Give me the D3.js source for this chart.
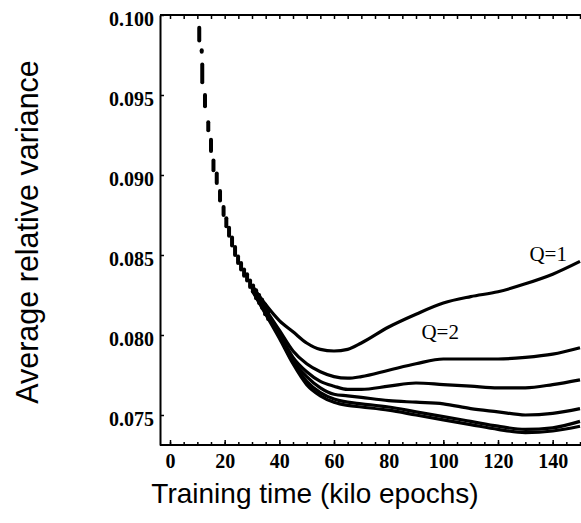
<!DOCTYPE html>
<html>
<head>
<meta charset="utf-8">
<script src="https://cdn.jsdelivr.net/npm/d3@7"></script>
<style>
  body { margin: 0; background: #fff; }
  svg { display: block; }
</style>
</head>
<body>
<div id="chart"></div>
<script>
// Canvas size
const width = 581;
const height = 523;

// Early training: dotted samples (time, upper and lower value of each dot cluster)
const markT      = [10.7, 11.6, 11.8, 12.8, 14.0, 15.0, 15.9, 17.1, 18.3, 19.6, 20.6, 21.6, 22.7, 23.8, 24.9, 26.0, 27.1, 28.2, 29.3, 30.4, 31.5, 32.6, 33.7, 34.8, 35.9];
const markTop    = [0.0992, 0.0978, 0.0969, 0.0950, 0.0933, 0.0922, 0.0909, 0.0901, 0.0890, 0.0880, 0.0873, 0.0867, 0.0861, 0.0855, 0.0849, 0.0845, 0.0841, 0.0838, 0.0834, 0.0831, 0.0828, 0.0825, 0.0822, 0.0819, 0.0816];
const markBottom = [0.0984, 0.0977, 0.0958, 0.0943, 0.0928, 0.0915, 0.0903, 0.0895, 0.0884, 0.0875, 0.0868, 0.0862, 0.0856, 0.0850, 0.0845, 0.0841, 0.0837, 0.0834, 0.0830, 0.0827, 0.0823, 0.0820, 0.0817, 0.0813, 0.0810];

// Later training: one curve per Q
const curveT = [30, 35, 40, 45, 50, 55, 60, 65, 70, 80, 90, 100, 110, 120, 130, 140, 150];
const q1 = [0.0831, 0.0819, 0.0809, 0.0802, 0.0795, 0.0791, 0.0790, 0.0791, 0.0795, 0.0805, 0.0813, 0.0820, 0.0824, 0.0827, 0.0832, 0.0838, 0.0846];
const q2 = [0.0830, 0.0816, 0.0803, 0.0790, 0.0782, 0.0777, 0.0774, 0.0773, 0.0774, 0.0778, 0.0782, 0.0785, 0.0785, 0.0785, 0.0786, 0.0788, 0.0792];
const q3 = [0.0829, 0.0815, 0.0801, 0.0786, 0.0777, 0.0771, 0.0768, 0.0766, 0.0766, 0.0768, 0.0770, 0.0769, 0.0768, 0.0767, 0.0767, 0.0769, 0.0772];
const q4 = [0.0829, 0.0814, 0.0800, 0.0784, 0.0774, 0.0767, 0.0763, 0.0762, 0.0761, 0.0759, 0.0758, 0.0757, 0.0754, 0.0752, 0.0750, 0.0751, 0.0754];
const q5 = [0.0828, 0.0814, 0.0799, 0.0783, 0.0771, 0.0764, 0.0760, 0.0758, 0.0757, 0.0755, 0.0752, 0.0749, 0.0746, 0.0743, 0.0741, 0.0742, 0.0746];
const q6 = [0.0828, 0.0813, 0.0798, 0.0782, 0.0769, 0.0762, 0.0758, 0.0756, 0.0755, 0.0753, 0.0750, 0.0747, 0.0744, 0.0741, 0.0739, 0.0740, 0.0743];
const curves = [q1, q2, q3, q4, q5, q6];

// Axis ticks and labels
const xTicks = [0, 20, 40, 60, 80, 100, 120, 140];
const xMinorTicks = d3.range(0, 151, 5);
const yTicks = [0.075, 0.080, 0.085, 0.090, 0.095, 0.100];
const curveLabels = [
    { text: "Q=1", t: 131.5, v: 0.08463 },
    { text: "Q=2", t: 92, v: 0.07975 }
];

// Scales
const x = d3.scaleLinear().domain([-3.66, 150]).range([160, 580]);
const y = d3.scaleLinear().domain([0.073125, 0.1]).range([445, 15]);

const svg = d3.select("#chart").append("svg")
    .attr("width", width)
    .attr("height", height);

// Axes (ticks point inward)
const tickFont = "'Liberation Serif', 'Times New Roman', serif";

const gx = svg.append("g")
    .attr("transform", "translate(0,445)")
    .call(d3.axisBottom(x).tickValues(xTicks).tickSize(-5).tickSizeOuter(0).tickPadding(9).tickFormat(d3.format("d")));

svg.append("g")
    .attr("transform", "translate(0,445)")
    .call(d3.axisBottom(x).tickValues(xMinorTicks).tickSize(-3).tickSizeOuter(0).tickFormat(""))
    .call(g => g.select(".domain").remove());

svg.append("g")
    .attr("transform", "translate(0,15)")
    .call(d3.axisTop(x).tickValues(xMinorTicks).tickSize(-4).tickSizeOuter(0).tickFormat(""))
    .call(g => g.select(".domain").attr("d", "M160,0H581"));

const gy = svg.append("g")
    .attr("transform", "translate(160,0)")
    .call(d3.axisLeft(y).tickValues(yTicks).tickSize(-4).tickSizeOuter(0).tickPadding(6).tickFormat(d3.format(".3f")));

gx.select(".domain").attr("d", "M160,0H581");

svg.selectAll(".domain").attr("stroke", "#000").attr("stroke-width", 2);
svg.selectAll(".tick line").attr("stroke", "#000").attr("stroke-width", 1.5);
svg.selectAll(".tick text")
    .attr("fill", "#000")
    .style("font-family", tickFont)
    .style("font-weight", "bold")
    .style("font-size", "20px");
gy.selectAll(".tick text").attr("dy", "0.5em");

// Curves
const line = d3.line()
    .x((d, i) => x(curveT[i]))
    .y(d => y(d))
    .curve(d3.curveMonotoneX);

svg.append("g")
    .selectAll("path")
    .data(curves)
    .enter().append("path")
    .attr("d", line)
    .attr("fill", "none")
    .attr("stroke", "#000")
    .attr("stroke-width", 3.2);

// Dotted early samples
svg.append("g")
    .selectAll("line")
    .data(markT)
    .enter().append("line")
    .attr("x1", d => x(d))
    .attr("x2", d => x(d))
    .attr("y1", (d, i) => y(markTop[i]))
    .attr("y2", (d, i) => y(markBottom[i]))
    .attr("stroke", "#000")
    .attr("stroke-width", 4)
    .attr("stroke-linecap", "round");

// Curve labels
svg.append("g")
    .selectAll("text")
    .data(curveLabels)
    .enter().append("text")
    .attr("x", d => x(d.t))
    .attr("y", d => y(d.v))
    .style("font-family", tickFont)
    .style("font-size", "21px")
    .text(d => d.text);

// Axis titles
const titleFont = "'Liberation Sans', Arial, sans-serif";

svg.append("text")
    .attr("x", 315)
    .attr("y", 503)
    .attr("text-anchor", "middle")
    .style("font-family", titleFont)
    .style("font-size", "28px")
    .text("Training time (kilo epochs)");

svg.append("text")
    .attr("transform", "translate(38,232) rotate(-90)")
    .attr("text-anchor", "middle")
    .style("font-family", titleFont)
    .style("font-size", "30.5px")
    .text("Average relative variance");
</script>
</body>
</html>
